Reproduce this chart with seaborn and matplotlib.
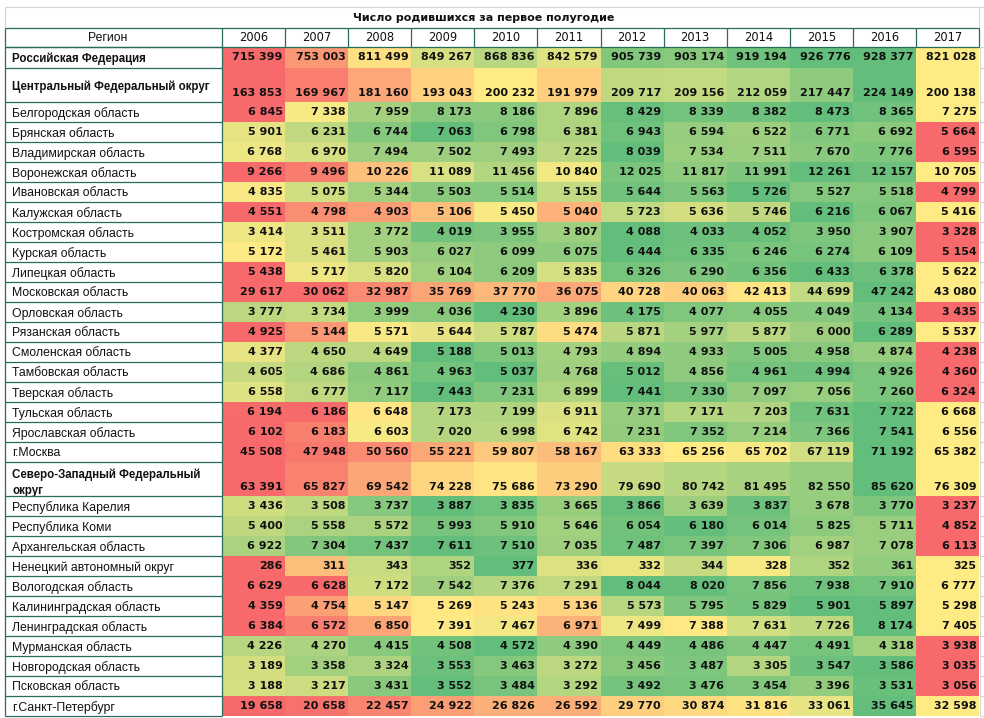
import numpy as np
import pandas as pd
import matplotlib
matplotlib.use("Agg")
import matplotlib.pyplot as plt
import seaborn as sns
from matplotlib.colors import LinearSegmentedColormap

# --- DATA ---
title = "Число родившихся за первое полугодие"
years = [2006, 2007, 2008, 2009, 2010, 2011, 2012, 2013, 2014, 2015, 2016, 2017]

rf_label = "Российская Федерация"
rf_values = [715399, 753003, 811499, 849267, 868836, 842579, 905739, 903174, 919194, 926776, 928377, 821028]

cfd_label = "Центральный Федеральный округ"
cfd_values = [163853, 169967, 181160, 193043, 200232, 191979, 209717, 209156, 212059, 217447, 224149, 200138]

cfd_regions = ["Белгородская область", "Брянская область", "Владимирская область", "Воронежская область",
               "Ивановская область", "Калужская область", "Костромская область", "Курская область",
               "Липецкая область", "Московская область", "Орловская область", "Рязанская область",
               "Смоленская область", "Тамбовская область", "Тверская область", "Тульская область",
               "Ярославская область", "г.Москва"]
cfd_region_values = [
    [6845, 7338, 7959, 8173, 8186, 7896, 8429, 8339, 8382, 8473, 8365, 7275],
    [5901, 6231, 6744, 7063, 6798, 6381, 6943, 6594, 6522, 6771, 6692, 5664],
    [6768, 6970, 7494, 7502, 7493, 7225, 8039, 7534, 7511, 7670, 7776, 6595],
    [9266, 9496, 10226, 11089, 11456, 10840, 12025, 11817, 11991, 12261, 12157, 10705],
    [4835, 5075, 5344, 5503, 5514, 5155, 5644, 5563, 5726, 5527, 5518, 4799],
    [4551, 4798, 4903, 5106, 5450, 5040, 5723, 5636, 5746, 6216, 6067, 5416],
    [3414, 3511, 3772, 4019, 3955, 3807, 4088, 4033, 4052, 3950, 3907, 3328],
    [5172, 5461, 5903, 6027, 6099, 6075, 6444, 6335, 6246, 6274, 6109, 5154],
    [5438, 5717, 5820, 6104, 6209, 5835, 6326, 6290, 6356, 6433, 6378, 5622],
    [29617, 30062, 32987, 35769, 37770, 36075, 40728, 40063, 42413, 44699, 47242, 43080],
    [3777, 3734, 3999, 4036, 4230, 3896, 4175, 4077, 4055, 4049, 4134, 3435],
    [4925, 5144, 5571, 5644, 5787, 5474, 5871, 5977, 5877, 6000, 6289, 5537],
    [4377, 4650, 4649, 5188, 5013, 4793, 4894, 4933, 5005, 4958, 4874, 4238],
    [4605, 4686, 4861, 4963, 5037, 4768, 5012, 4856, 4961, 4994, 4926, 4360],
    [6558, 6777, 7117, 7443, 7231, 6899, 7441, 7330, 7097, 7056, 7260, 6324],
    [6194, 6186, 6648, 7173, 7199, 6911, 7371, 7171, 7203, 7631, 7722, 6668],
    [6102, 6183, 6603, 7020, 6998, 6742, 7231, 7352, 7214, 7366, 7541, 6556],
    [45508, 47948, 50560, 55221, 59807, 58167, 63333, 65256, 65702, 67119, 71192, 65382],
]

nwfd_label = "Северо-Западный Федеральный\nокруг"
nwfd_values = [63391, 65827, 69542, 74228, 75686, 73290, 79690, 80742, 81495, 82550, 85620, 76309]

nw_regions = ["Республика Карелия", "Республика Коми", "Архангельская область", "Ненецкий автономный округ",
              "Вологодская область", "Калининградская область", "Ленинградская область",
              "Мурманская область", "Новгородская область", "Псковская область", "г.Санкт-Петербург"]
nw_region_values = [
    [3436, 3508, 3737, 3887, 3835, 3665, 3866, 3639, 3837, 3678, 3770, 3237],
    [5400, 5558, 5572, 5993, 5910, 5646, 6054, 6180, 6014, 5825, 5711, 4852],
    [6922, 7304, 7437, 7611, 7510, 7035, 7487, 7397, 7306, 6987, 7078, 6113],
    [286, 311, 343, 352, 377, 336, 332, 344, 328, 352, 361, 325],
    [6629, 6628, 7172, 7542, 7376, 7291, 8044, 8020, 7856, 7938, 7910, 6777],
    [4359, 4754, 5147, 5269, 5243, 5136, 5573, 5795, 5829, 5901, 5897, 5298],
    [6384, 6572, 6850, 7391, 7467, 6971, 7499, 7388, 7631, 7726, 8174, 7405],
    [4226, 4270, 4415, 4508, 4572, 4390, 4449, 4486, 4447, 4491, 4318, 3938],
    [3189, 3358, 3324, 3553, 3463, 3272, 3456, 3487, 3305, 3547, 3586, 3035],
    [3188, 3217, 3431, 3552, 3484, 3292, 3492, 3476, 3454, 3396, 3531, 3056],
    [19658, 20658, 22457, 24922, 26826, 26592, 29770, 30874, 31816, 33061, 35645, 32598],
]

# --- LAYOUT (pixels) ---
W, H = 984, 718
X0, XA, X1 = 5, 222, 979          # left border, end of region column, right border
TEAL = "#2B6A5E"
GRAY = "#D4D4D4"
LABEL_FONT = "Liberation Sans"

# excel-like red / yellow / green scale, one scale per row
cmap = LinearSegmentedColormap.from_list("excel3", ["#F8696B", "#FFEB84", "#63BE7B"])


def fmt_num(v):
    return f"{v:,}".replace(",", " ")


def row_scale(rows):
    # 3-colour scale per row: min -> red, last year (2017) -> yellow, max -> green
    a = np.array(rows, dtype=float)
    lo = a.min(axis=1, keepdims=True)
    hi = a.max(axis=1, keepdims=True)
    mid = a[:, -1:]
    below = np.where(mid > lo, 0.5 * (a - lo) / np.where(mid > lo, mid - lo, 1), 0.0)
    above = 0.5 + 0.5 * (a - mid) / np.where(hi > mid, hi - mid, 1)
    return np.where(a <= mid, below, above)


def frac(x0, y0, x1, y1):
    return [x0 / W, 1 - y1 / H, (x1 - x0) / W, (y1 - y0) / H]


# label list, rows of values, top px, bottom px, bold, tall row
blocks = [
    ([rf_label], [rf_values], 47, 68, True, False),
    ([cfd_label], [cfd_values], 68, 102, True, True),
    (cfd_regions, cfd_region_values, 102, 462, False, False),
    ([nwfd_label], [nwfd_values], 462, 496, True, True),
    (nw_regions, nw_region_values, 496, 716, False, False),
]

fig = plt.figure(figsize=(W / 100, H / 100), dpi=100)
fig.patch.set_facecolor("white")

row_edges = [47]
for k, (labels, rows, top, bottom, bold, tall) in enumerate(blocks):
    ax = fig.add_axes(frac(XA, top, X1, bottom))
    df = pd.DataFrame(row_scale(rows), index=labels, columns=years)
    annot = np.array([[fmt_num(v) for v in r] for r in rows])
    sns.heatmap(df, cmap=cmap, vmin=0, vmax=1, annot=annot, fmt="", cbar=False, ax=ax,
                xticklabels=years if k == 0 else False, yticklabels=labels,
                annot_kws=dict(fontsize=8, fontweight="bold", color="#111111", ha="right"))

    # numbers right aligned in the cell, at the bottom for the tall rows
    dy = 0.24 if tall else 0.0
    for t in ax.texts:
        x, y = t.get_position()
        t.set_position((x + 0.46, y + dy))

    ax.tick_params(axis="y", length=0, pad=(XA - 12) * 0.72)
    for t in ax.get_yticklabels():
        t.set_rotation(0)
        t.set_ha("left")
        t.set_va("center_baseline")
        t.set_fontfamily(LABEL_FONT)
        t.set_fontsize(8.3 if bold else 8.8)
        t.set_color("#111111")
        t.set_multialignment("left")
        t.set_linespacing(1.5)
        if bold:
            t.set_fontweight("bold")

    if k == 0:
        ax.xaxis.tick_top()
        ax.tick_params(axis="x", length=0, pad=6.8)
        for t in ax.get_xticklabels():
            t.set_rotation(0)
            t.set_va("center")
            t.set_fontsize(8.3)
            t.set_color("#111111")
    ax.set_xlabel("")
    ax.set_ylabel("")

    step = (bottom - top) / len(labels)
    row_edges += [top + step * (i + 1) for i in range(len(labels))]

# --- table frame, title and header ---
fax = fig.add_axes([0, 0, 1, 1], zorder=10)
fax.set_xlim(0, W)
fax.set_ylim(H, 0)
fax.axis("off")
fax.patch.set_alpha(0)

col_edges = [XA + (X1 - XA) * i / len(years) for i in range(len(years) + 1)]

# title row (plain sheet gridlines)
fax.hlines(7, X0, W, color=GRAY, lw=0.8)
fax.vlines([X0, X1], 7, 28, color=GRAY, lw=0.8)
fax.text(484, 18, title, ha="center", va="center", fontsize=8, fontweight="bold", color="#111111")

# header row
fax.hlines([28, 47], X0, X1, color=TEAL, lw=0.9)
fax.vlines([X0] + col_edges, 28, 47, color=TEAL, lw=0.9)
fax.text(108, 38, "Регион", ha="center", va="center", fontsize=8.8,
         family=LABEL_FONT, color="#111111")

# region column borders
fax.vlines([X0, XA], 47, 716, color=TEAL, lw=0.9)
fax.hlines(row_edges, X0, XA, color=TEAL, lw=0.9)

# sheet gridlines to the right of the table
fax.vlines(X1 + 1, 47, 716, color=GRAY, lw=0.8)
fax.hlines(row_edges, X1 + 1, W, color=GRAY, lw=0.8)

fig.savefig("out.png", dpi=100, facecolor="white")
